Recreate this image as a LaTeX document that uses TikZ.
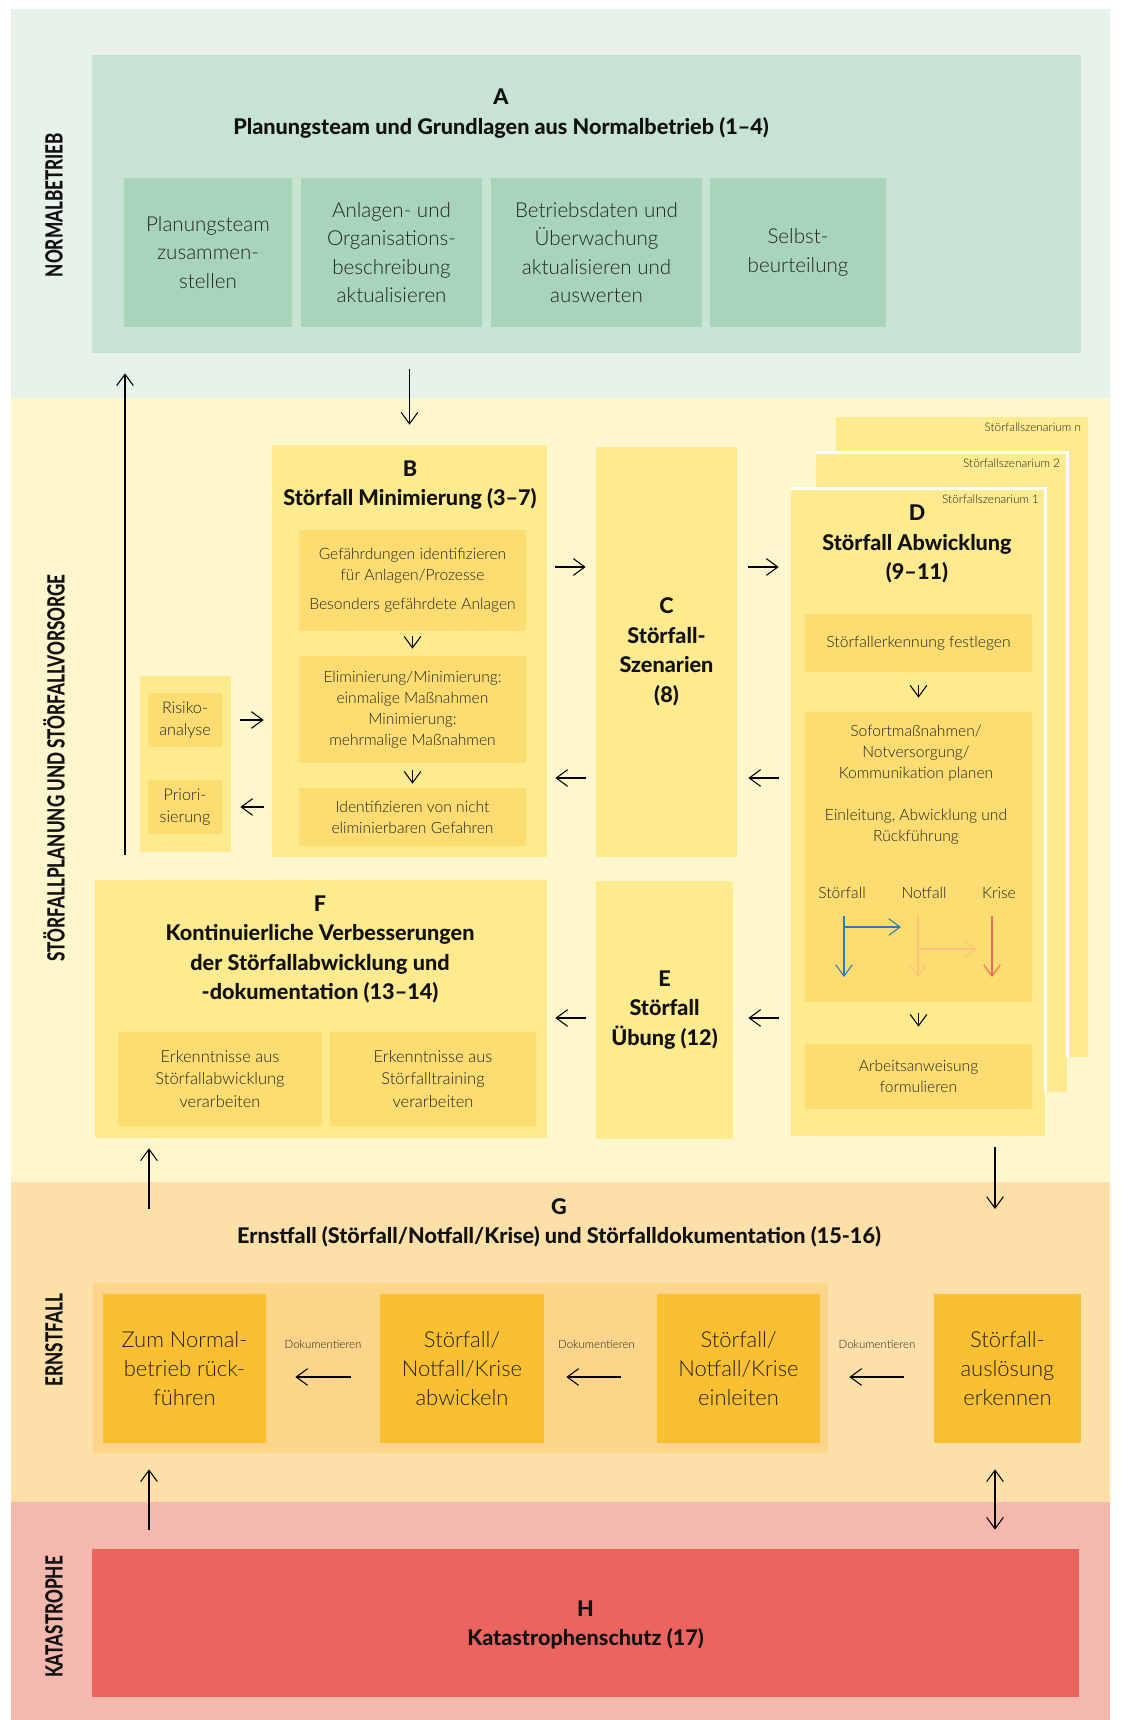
\documentclass[tikz,border=0pt]{standalone}
\usepackage{fontspec}
\IfFontExistsTF{Lato Light}
  {\IfFontExistsTF{Lato Heavy}
    {\setmainfont{Lato}[UprightFont={* Light}, BoldFont={* Heavy}]}
    {\setmainfont{Lato}[UprightFont={* Light}, BoldFont={* Bold}]}}
  {\setmainfont{Lato}}
\usepackage{tikz}
\usetikzlibrary{arrows.meta, positioning, calc}

\definecolor{cBgGreen}{HTML}{E7F2EA}
\definecolor{cBoxA}{HTML}{C6E3D3}
\definecolor{cSubA}{HTML}{A8D5BA}
\definecolor{cBgYellow}{HTML}{FEF6CD}
\definecolor{cBoxY}{HTML}{FEEA8F}
\definecolor{cSubY}{HTML}{FDDD72}
\definecolor{cBgOrange}{HTML}{FDE0A8}
\definecolor{cGrpG}{HTML}{FCD58B}
\definecolor{cBoxG}{HTML}{FBBF32}
\definecolor{cBgPink}{HTML}{F5B8AE}
\definecolor{cBoxH}{HTML}{EC6460}
\definecolor{cBlue}{HTML}{2B7CBB}
\definecolor{cPeach}{HTML}{FCC27E}
\definecolor{cRed}{HTML}{EF6A5C}
\definecolor{cTxt}{HTML}{222222}
\definecolor{cTtl}{HTML}{111111}

\begin{document}
\begin{tikzpicture}[
  x=0.02cm, y=-0.02cm,
  box/.style={rectangle, inner sep=0pt, align=center, text=cTxt},
  grpA/.style={box, fill=cBoxA},
  subA/.style={box, fill=cSubA, minimum height=2.98cm,
               font=\fontsize{11.7}{16.2}\selectfont},
  grpY/.style={box, fill=cBoxY},
  subY/.style={box, fill=cSubY, minimum width=4.54cm,
               font=\fontsize{8.9}{11.9}\selectfont},
  subF/.style={box, fill=cSubY, minimum height=1.88cm,
               font=\fontsize{9.4}{12.8}\selectfont},
  subG/.style={box, fill=cBoxG, minimum height=2.98cm,
               font=\fontsize{12.5}{16.5}\selectfont},
  body/.style={align=center, inner sep=0pt, text=cTxt,
               font=\fontsize{8.9}{11.9}\selectfont},
  ttl/.style={align=center, inner sep=0pt, text=cTtl,
              font=\fontsize{12.3}{16.8}\selectfont\bfseries},
  scn/.style={inner sep=0pt, text=cTxt, font=\fontsize{6.7}{8}\selectfont},
  doc/.style={inner sep=0pt, text=cTxt, font=\fontsize{6.5}{8}\selectfont},
  lane/.style={rotate=90, inner sep=0pt, text=cTtl,
               font=\fontsize{13.5}{14}\selectfont\bfseries},
  sep/.style={white, line width=0.05cm},
  arr/.style={->, >={Straight Barb[length=6.5pt, width=9.5pt]}, line width=0.6pt},
  dbl/.style={arr, <->}
]
\useasboundingbox (0,0) rectangle (1120,1720);

% lanes
\fill[cBgGreen]  (11,9)    rectangle (1110,398);
\fill[cBgYellow] (11,398)  rectangle (1110,1182);
\fill[cBgOrange] (11,1182) rectangle (1110,1502);
\fill[cBgPink]   (11,1502) rectangle (1110,1720);

\node[lane] (lnN) at (54,205)  {\scalebox{0.72}[1]{NORMALBETRIEB}};
\node[lane] (lnS) at (54,768)  {\scalebox{0.72}[1]{STÖRFALLPLANUNG UND STÖRFALLVORSORGE}};
\node[lane] (lnE) at (54,1340) {\scalebox{0.72}[1]{ERNSTFALL}};
\node[lane] (lnK) at (54,1617) {\scalebox{0.72}[1]{KATASTROPHE}};

% A
\node[grpA, minimum width=19.78cm, minimum height=5.96cm] (boxA) at (586.5,204) {};
\node[ttl] (tA) at (501,113.5) {A\\Planungsteam und Grundlagen aus Normalbetrieb (1–4)};
\node[subA, minimum width=3.36cm] (a1) at (208,252.5)   {Planungsteam\\zusammen-\\stellen};
\node[subA, minimum width=3.62cm] (a2) at (391.5,252.5) {Anlagen- und\\Organisations-\\beschreibung\\aktualisieren};
\node[subA, minimum width=4.22cm] (a3) at (596.5,252.5) {Betriebsdaten und\\Überwachung\\aktualisieren und\\auswerten};
\node[subA, minimum width=3.52cm] (a4) at (798,252.5)   {Selbst-\\beurteilung};

% B
\node[grpY, minimum width=5.50cm, minimum height=8.24cm] (boxB) at (409.5,651) {};
\node[ttl] (tB) at (410,485) {B\\Störfall Minimierung (3–7)};
\node[subY, minimum height=2.02cm] (b1) at (412.5,580.5) {Gefährdungen identifizieren\\für Anlagen/Prozesse\\[0.16cm]Besonders gefährdete Anlagen};
\node[subY, minimum height=2.14cm] (b2) at (412.5,709.5) {Eliminierung/Minimierung:\\einmalige Maßnahmen\\Minimierung:\\mehrmalige Maßnahmen};
\node[subY, minimum height=1.16cm] (b3) at (412.5,817)   {Identifizieren von nicht\\eliminierbaren Gefahren};

\node[grpY, minimum width=1.82cm, minimum height=3.52cm] (grpR) at (185.5,764) {};
\node[subY, minimum width=1.48cm, minimum height=1.08cm, font=\fontsize{9.2}{12.5}\selectfont] (rsk)  at (185,720) {Risiko-\\analyse};
\node[subY, minimum width=1.48cm, minimum height=1.08cm, font=\fontsize{9.2}{12.5}\selectfont] (prio) at (185,807) {Priori-\\sierung};

% C
\node[grpY, ttl, minimum width=2.82cm, minimum height=8.20cm] (boxC) at (666.5,652) {C\\Störfall-\\Szenarien\\(8)};

% D
\node[grpY, minimum width=5.04cm, minimum height=12.80cm] (stN) at (962,737) {};
\node[scn, anchor=north east] (sN) at ([xshift=-0.14cm, yshift=-0.12cm]stN.north east) {Störfallszenarium n};
\node[grpY, minimum width=5.02cm, minimum height=12.78cm] (st2) at (941.5,772.5) {};
\draw[sep] (st2.north west) -- (st2.north east) -- (st2.east |- stN.south);
\node[scn, anchor=north east] (s2) at ([xshift=-0.14cm, yshift=-0.12cm]st2.north east) {Störfallszenarium 2};
\node[grpY, minimum width=5.08cm, minimum height=12.94cm] (boxD) at (918,812.5) {};
\draw[sep] (boxD.north west) -- (boxD.north east) -- (boxD.east |- st2.south);
\node[scn, anchor=north east] (s1) at ([xshift=-0.12cm, yshift=-0.12cm]boxD.north east) {Störfallszenarium 1};
\node[ttl] (tD) at (917,544) {D\\Störfall Abwicklung\\(9–11)};
\node[subY, minimum height=1.16cm] (d1) at (918.5,643)    {Störfallerkennung festlegen};
\node[subY, minimum height=5.80cm] (d2) at (918.5,857)    {};
\node[subY, minimum height=1.30cm] (d3) at (918.5,1076.5) {Arbeitsanweisung\\formulieren};
\node[body] (d2txt) at (916,785) {Sofortmaßnahmen/\\Notversorgung/\\Kommunikation planen\\[0.42cm]Einleitung, Abwicklung und\\Rückführung};
\node[body] (lS) at (842,893) {Störfall};
\node[body] (lN) at (924,893) {Notfall};
\node[body] (lK) at (999,893) {Krise};

% E, F
\node[grpY, ttl, minimum width=2.74cm, minimum height=5.16cm] (boxE) at (664.5,1010) {E\\Störfall\\Übung (12)};
\node[grpY, minimum width=9.04cm, minimum height=5.16cm] (boxF) at (321,1009) {};
\node[ttl] (tF) at (320,949.5) {F\\Kontinuierliche Verbesserungen\\der Störfallabwicklung und\\-dokumentation (13–14)};
\node[subF, minimum width=4.08cm] (f1) at (220,1079) {Erkenntnisse aus\\Störfallabwicklung\\verarbeiten};
\node[subF, minimum width=4.12cm] (f2) at (433,1079) {Erkenntnisse aus\\Störfalltraining\\verarbeiten};

% G
\node[ttl] (tG) at (559,1223) {G\\Ernstfall (Störfall/Notfall/Krise) und Störfalldokumentation (15-16)};
\node[box, fill=cGrpG, minimum width=14.70cm, minimum height=3.40cm] (grpG) at (460.5,1368) {};
\node[subG, minimum width=3.26cm] (g1) at (184.5,1368.5)  {Zum Normal-\\betrieb rück-\\führen};
\node[subG, minimum width=3.28cm] (g2) at (462,1368.5)    {Störfall/\\Notfall/Krise\\abwickeln};
\node[subG, minimum width=3.26cm] (g3) at (738.5,1368.5)  {Störfall/\\Notfall/Krise\\einleiten};
\node[subG, minimum width=2.94cm] (g4) at (1007.5,1368.5) {Störfall-\\auslösung\\erkennen};

% H
\node[box, fill=cBoxH, minimum width=19.74cm, minimum height=2.96cm] (boxH) at (585.5,1623) {};
\node[ttl] (tH) at (585.5,1625) {H\\Katastrophenschutz (17)};

% connectors
\coordinate (rowT) at (0,567);
\coordinate (rowM) at (0,778);
\coordinate (rowE) at (0,1018);
\coordinate (rowG) at (0,1377);
\coordinate (upL)  at (125,855);
\coordinate (gIn)  at (995,1209);
\coordinate (gOut) at (149,1209);

\draw[arr, shorten >=0.4cm] (upL) -- (upL |- boxA.south);
\draw[arr, shorten <=0.32cm, shorten >=0.4cm] (boxA.south -| boxB.north) -- (boxB.north);

\draw[arr, shorten <=0.1cm, shorten >=0.14cm] (b1) -- (b2);
\draw[arr, shorten <=0.14cm, shorten >=0.08cm] (b2) -- (b3);
\draw[arr, shorten <=0.18cm, shorten >=0.16cm] (grpR.east |- rsk) -- (boxB.west |- rsk);
\draw[arr, shorten <=0.16cm, shorten >=0.18cm] (boxB.west |- prio) -- (grpR.east |- prio);

\draw[arr, shorten <=0.16cm, shorten >=0.2cm]  (boxB.east |- rowT) -- (boxC.west |- rowT);
\draw[arr, shorten <=0.22cm, shorten >=0.24cm] (boxC.east |- rowT) -- (boxD.west |- rowT);
\draw[arr, shorten <=0.24cm, shorten >=0.22cm] (boxD.west |- rowM) -- (boxC.east |- rowM);
\draw[arr, shorten <=0.2cm, shorten >=0.16cm]  (boxC.west |- rowM) -- (boxB.east |- rowM);
\draw[arr, shorten <=0.24cm, shorten >=0.3cm]  (boxD.west |- rowE) -- (boxE.east |- rowE);
\draw[arr, shorten <=0.2cm, shorten >=0.16cm]  (boxE.west |- rowE) -- (boxF.east |- rowE);

\draw[arr, shorten <=0.26cm, shorten >=0.28cm] (d1) -- (d2);
\draw[arr, shorten <=0.22cm, shorten >=0.34cm] (d2) -- (d3);
\draw[arr, cBlue]  (844,916) -- ++(0,61);
\draw[arr, cBlue]  (844,927) -- ++(57,0);
\draw[arr, cPeach] (918,916) -- ++(0,61);
\draw[arr, cPeach] (918,949) -- ++(59,0);
\draw[arr, cRed]   (992,916) -- ++(0,61);

\draw[arr, shorten <=0.22cm] (boxD.south -| gIn) -- (gIn);
\draw[arr, shorten >=0.2cm] (gOut) -- (gOut |- boxF.south);

\draw[arr, shorten <=0.58cm, shorten >=0.58cm] (g2.west |- rowG) -- node[doc, yshift=0.66cm]{Dokumentieren} (g1.east |- rowG);
\draw[arr, shorten <=0.72cm, shorten >=0.44cm] (g3.west |- rowG) -- node[doc, yshift=0.66cm, xshift=-0.08cm]{Dokumentieren} (g2.east |- rowG);
\draw[arr, shorten <=0.6cm, shorten >=0.58cm]  (g4.west |- rowG) -- node[doc, yshift=0.66cm]{Dokumentieren} (g3.east |- rowG);

\draw[arr, shorten <=0.38cm, shorten >=0.32cm] (boxH.north -| gOut) -- (gOut |- grpG.south);
\draw[dbl, shorten <=0.52cm, shorten >=0.38cm] (g4.south -| gIn) -- (boxH.north -| gIn);
\end{tikzpicture}
\end{document}
